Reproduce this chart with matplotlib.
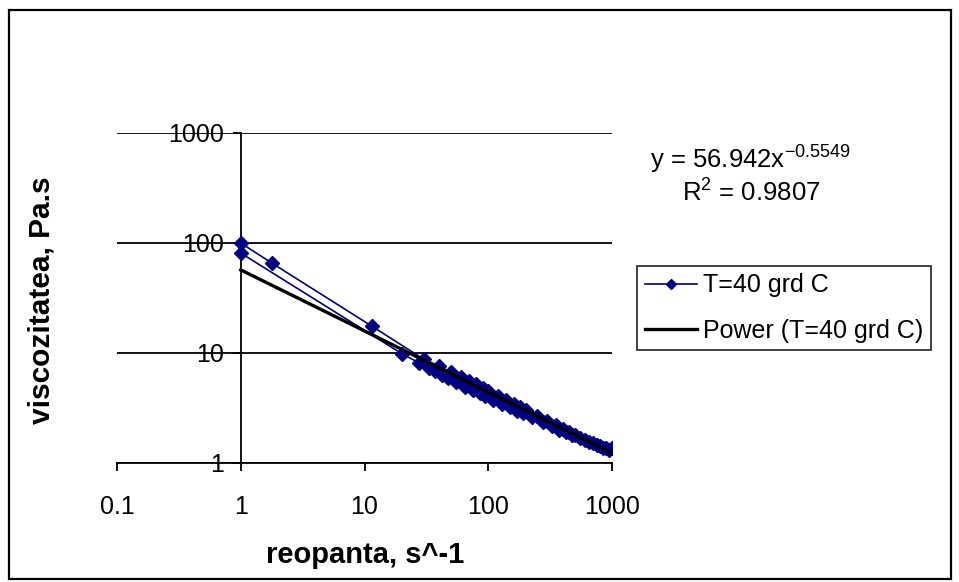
import matplotlib
matplotlib.use("Agg")
import matplotlib.pyplot as plt
from matplotlib.patches import Rectangle
from matplotlib.ticker import FixedLocator, NullLocator, FixedFormatter

plt.rcParams['font.family'] = ['Liberation Sans', 'DejaVu Sans']
plt.rcParams['mathtext.fontset'] = 'custom'
plt.rcParams['mathtext.rm'] = 'Liberation Sans'
plt.rcParams['mathtext.it'] = 'Liberation Sans'

# --- date ---
# curba la crestere
x_up = [1, 1.78, 11.4, 30, 40, 50, 60, 70, 80, 90, 100, 120, 140, 160, 180,
        200, 250, 300, 350, 400, 450, 500, 600, 700, 800, 900, 1000]
y_up = [100, 65.8, 17.6, 8.8, 7.6, 6.7, 6.1, 5.6, 5.2, 4.85, 4.55, 4.1, 3.75,
        3.45, 3.22, 3.03, 2.66, 2.4, 2.2, 2.04, 1.91, 1.8, 1.63, 1.51, 1.43,
        1.38, 1.37]
# curba la descrestere
x_down = [950, 850, 750, 650, 550, 475, 425, 375, 325, 275, 225, 190, 170,
          150, 130, 110, 95, 85, 75, 65, 55, 47, 42, 37, 33, 27.8, 20.2, 1]
y_down = [1.32, 1.38, 1.45, 1.55, 1.68, 1.8, 1.9, 2.0, 2.15, 2.35, 2.6, 2.85,
          3.0, 3.2, 3.45, 3.75, 4.05, 4.3, 4.6, 4.95, 5.45, 5.9, 6.3, 6.8,
          7.3, 8.1, 9.8, 81]

# trendline de tip power: y = a * x^b
fit_a = 56.942
fit_b = -0.5549
fit_x = [1, 1000]
fit_y = [fit_a * xx ** fit_b for xx in fit_x]

x_ticks = [0.1, 1, 10, 100, 1000]
x_ticklabels = ["0.1", "1", "10", "100", "1000"]
y_ticks = [1, 10, 100, 1000]
y_ticklabels = ["1", "10", "100", "1000"]

W, H = 959, 582
fig = plt.figure(figsize=(W / 100, H / 100), dpi=100)
ax = fig.add_axes([117 / W, 1 - 463 / H, (612 - 117) / W, (463 - 133) / H])

x_all = x_up + x_down
y_all = y_up + y_down
ax.plot(x_all, y_all, color='#000080', lw=1.2, marker='D', markersize=7,
        label='T=40 grd C', zorder=3)
ax.plot(fit_x, fit_y, color='black', lw=2.4, label='Power (T=40 grd C)', zorder=4)

ax.set_xscale('log')
ax.set_yscale('log')
ax.set_xlim(0.1, 1000)
ax.set_ylim(1, 1000)

ax.xaxis.set_major_locator(FixedLocator(x_ticks))
ax.xaxis.set_major_formatter(FixedFormatter(x_ticklabels))
ax.yaxis.set_major_locator(FixedLocator(y_ticks))
ax.yaxis.set_major_formatter(FixedFormatter(y_ticklabels))
ax.xaxis.set_minor_locator(NullLocator())
ax.yaxis.set_minor_locator(NullLocator())

ax.spines['top'].set_visible(False)
ax.spines['right'].set_visible(False)
ax.spines['left'].set_position(('data', 1))
ax.spines['left'].set_linewidth(1.3)
ax.spines['bottom'].set_linewidth(1.3)

ax.tick_params(axis='x', direction='out', length=6, width=1.3, labelsize=18, pad=17)
ax.tick_params(axis='y', direction='out', length=6, width=1.3, labelsize=18, pad=6)
ax.yaxis.grid(True, color='black', lw=1.3)
ax.set_axisbelow(True)

fig.text(365 / W, 1 - 555 / H, "reopanta, s^-1", ha='center', va='center',
         fontsize=21, fontweight='bold')
fig.text(42 / W, 1 - 300 / H, "viscozitatea, Pa.s", ha='center', va='center',
         rotation=90, fontsize=21.5, fontweight='bold')

fig.text(650 / W, 1 - 160 / H, r"y = 56.942x$^{\mathrm{-0.5549}}$",
         ha='left', va='center', fontsize=18.5)
fig.text(682 / W, 1 - 193 / H, r"R$^{\mathrm{2}}$ = 0.9807",
         ha='left', va='center', fontsize=18.5)

leg = ax.legend(loc='upper left', bbox_to_anchor=(637 / W, 1 - 266 / H),
                bbox_transform=fig.transFigure, frameon=True, fancybox=False,
                fontsize=18, handlelength=2.1, handletextpad=0.25,
                borderpad=0.3, labelspacing=0.85, borderaxespad=0,
                markerscale=0.8)
leg.get_frame().set_edgecolor('black')
leg.get_frame().set_linewidth(1.3)

fig.patches.append(Rectangle((9 / W, 3 / H), 942 / W, (572 - 3) / H,
                             transform=fig.transFigure, fill=False,
                             edgecolor='black', lw=1.6))

fig.savefig("out.png", dpi=100)
